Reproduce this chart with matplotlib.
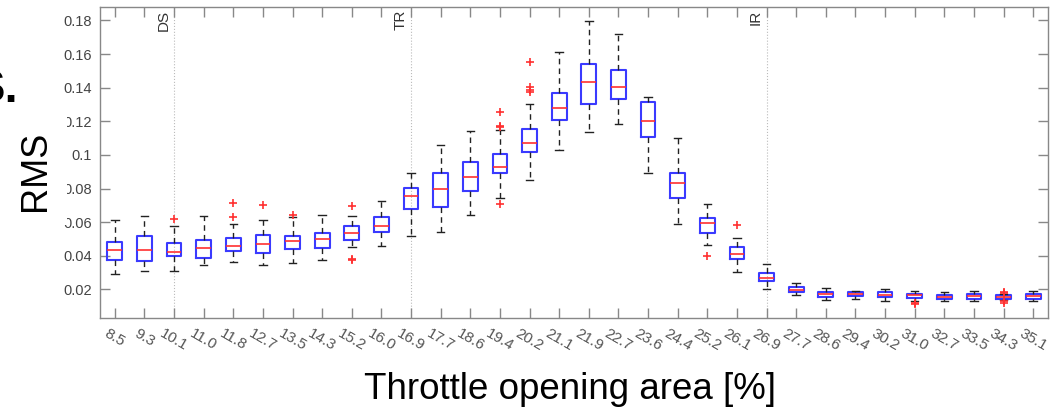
import matplotlib
matplotlib.use("Agg")
from matplotlib import pyplot as plt

plt.rcParams['font.family'] = ['Liberation Sans', 'DejaVu Sans']

# throttle opening area categories
labels = ['8.5', '9.3', '10.1', '11.0', '11.8', '12.7', '13.5', '14.3', '15.2', '16.0',
          '16.9', '17.7', '18.6', '19.4', '20.2', '21.1', '21.9', '22.7', '23.6', '24.4',
          '25.2', '26.1', '26.9', '27.7', '28.6', '29.4', '30.2', '31.0', '32.7', '33.5',
          '34.3', '35.1']

# box statistics
whislo = [0.0289, 0.0307, 0.0311, 0.0345, 0.0361, 0.0345, 0.0359, 0.0376, 0.0455, 0.0460,
          0.0515, 0.0539, 0.0644, 0.0745, 0.0850, 0.1029, 0.1134, 0.1182, 0.0894, 0.0587,
          0.0466, 0.0303, 0.0204, 0.0164, 0.0138, 0.0146, 0.0134, 0.0134, 0.0132, 0.0134,
          0.0138, 0.0132]
q1 = [0.0378, 0.0368, 0.0400, 0.0386, 0.0426, 0.0416, 0.0440, 0.0448, 0.0493, 0.0541,
      0.0680, 0.0688, 0.0785, 0.0892, 0.1015, 0.1205, 0.1302, 0.1334, 0.1108, 0.0745,
      0.0535, 0.0379, 0.0253, 0.0184, 0.0156, 0.0158, 0.0154, 0.0148, 0.0144, 0.0144,
      0.0144, 0.0144]
med = [0.0436, 0.0436, 0.0424, 0.0448, 0.0458, 0.0468, 0.0491, 0.0501, 0.0533, 0.0575,
       0.0753, 0.0797, 0.0870, 0.0928, 0.1074, 0.1279, 0.1435, 0.1402, 0.1201, 0.0836,
       0.0593, 0.0410, 0.0271, 0.0198, 0.0170, 0.0170, 0.0168, 0.0164, 0.0156, 0.0158,
       0.0154, 0.0158]
q3 = [0.0483, 0.0517, 0.0475, 0.0493, 0.0505, 0.0525, 0.0515, 0.0533, 0.0575, 0.0630,
      0.0803, 0.0892, 0.0958, 0.1003, 0.1156, 0.1368, 0.1542, 0.1507, 0.1316, 0.0894,
      0.0622, 0.0452, 0.0295, 0.0214, 0.0184, 0.0182, 0.0182, 0.0174, 0.0168, 0.0170,
      0.0164, 0.0170]
whishi = [0.0614, 0.0638, 0.0575, 0.0638, 0.0589, 0.0614, 0.0628, 0.0644, 0.0638, 0.0727,
          0.0892, 0.1062, 0.1144, 0.1148, 0.1302, 0.1612, 0.1798, 0.1719, 0.1344, 0.1100,
          0.0706, 0.0507, 0.0353, 0.0238, 0.0206, 0.0190, 0.0204, 0.0188, 0.0182, 0.0188,
          0.0174, 0.0188]
fliers = [[], [], [0.0618], [], [0.0715, 0.0628], [0.0700], [0.0642], [], [0.0698, 0.0380, 0.0376], [],
          [], [], [], [0.1253, 0.1174, 0.1166, 0.0708], [0.1552, 0.1404, 0.1386, 0.1374], [], [], [], [], [],
          [0.0396], [0.0581], [], [], [], [], [], [0.0120, 0.0114], [], [],
          [0.0184, 0.0177, 0.0130, 0.0122], []]

# regime markers (category position, text)
regime_pos = [3, 11, 23]
regime_txt = ['DS', 'TR', 'IR']

stats = []
for i in range(len(labels)):
    stats.append({'whislo': whislo[i], 'q1': q1[i], 'med': med[i], 'q3': q3[i],
                  'whishi': whishi[i], 'fliers': fliers[i]})

fig = plt.figure(figsize=(10.57, 4.15), dpi=100)
ax = fig.add_axes([0.0946, 0.2337, 0.8969, 0.7494])

ax.bxp(stats, positions=range(1, len(labels) + 1), widths=0.5, showfliers=True,
       boxprops=dict(color='#3a3aff', linewidth=1.5),
       medianprops=dict(color='#ff3030', linewidth=1.2),
       whiskerprops=dict(color='#222222', linewidth=1.0, linestyle=(0, (4, 3))),
       capprops=dict(color='#222222', linewidth=1.0),
       flierprops=dict(marker='+', markeredgecolor='#ff3030', markersize=6, markeredgewidth=1.2))

for p, t in zip(regime_pos, regime_txt):
    ax.axvline(p, color='#bbbbbb', linestyle=':', linewidth=0.8, zorder=0)
    ax.text(p - 0.12, 0.1865, t, rotation=90, ha='right', va='top', fontsize=11, color='#333333')

ax.set_xlim(0.5, len(labels) + 0.5)
ax.set_ylim(0.003, 0.188)
ax.set_yticks([0.02, 0.04, 0.06, 0.08, 0.1, 0.12, 0.14, 0.16, 0.18])
ax.set_yticklabels(['0.02', '0.04', '0.06', '0.08', '0.1', '0.12', '0.14', '0.16', '0.18'])
ax.set_xticks(range(1, len(labels) + 1))
ax.set_xticklabels(labels, rotation=-30, ha='center', va='top', fontsize=11, color='#555555')
ax.tick_params(axis='y', labelsize=10.5, labelcolor='#444444')
ax.tick_params(direction='in', length=7, width=1, color='#888888', top=True, right=True, pad=6)

for s in ax.spines.values():
    s.set_color('#888888')
    s.set_linewidth(1)

fig.text(0.539, 0.02, 'Throttle opening area [%]', ha='center', va='bottom', fontsize=26.5)
fig.text(0.034, 0.588, 'RMS', rotation=90, ha='center', va='center', fontsize=26,
         bbox=dict(facecolor='white', edgecolor='none', pad=10))
fig.text(-0.025, 0.73, 'S.', ha='left', va='bottom', fontsize=34, fontweight='bold')

fig.savefig('out.png', dpi=100)
